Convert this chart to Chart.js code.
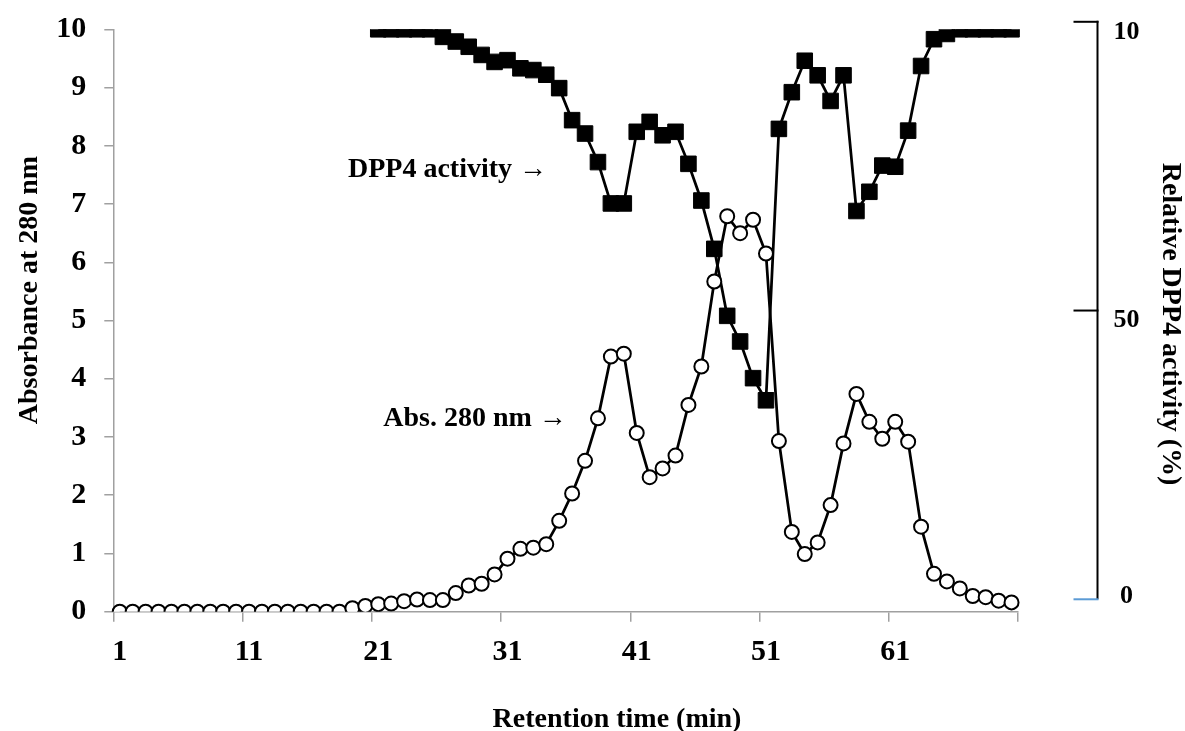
<!DOCTYPE html>
<html>
<head>
<meta charset="utf-8">
<script src="https://cdn.jsdelivr.net/npm/chart.js@4.4.1/dist/chart.umd.min.js"></script>
<style>
  body { margin: 0; background: #fff; }
  canvas { display: block; }
</style>
</head>
<body>
<canvas id="chart" width="1185" height="731"></canvas>
<script>
// retention time (min), one fraction per minute
const minutes = [1, 2, 3, 4, 5, 6, 7, 8, 9, 10, 11, 12, 13, 14, 15, 16, 17, 18, 19, 20,
    21, 22, 23, 24, 25, 26, 27, 28, 29, 30, 31, 32, 33, 34, 35, 36, 37, 38, 39, 40,
    41, 42, 43, 44, 45, 46, 47, 48, 49, 50, 51, 52, 53, 54, 55, 56, 57, 58, 59, 60,
    61, 62, 63, 64, 65, 66, 67, 68, 69, 70];

const absorbance = [0, 0, 0, 0, 0, 0, 0, 0, 0, 0, 0, 0, 0, 0, 0, 0, 0, 0, 0.06, 0.10,
    0.13, 0.14, 0.18, 0.21, 0.20, 0.20, 0.32, 0.45, 0.48, 0.64, 0.91, 1.08, 1.10, 1.16, 1.56, 2.03, 2.59, 3.32, 4.38, 4.43,
    3.07, 2.31, 2.46, 2.68, 3.55, 4.21, 5.67, 6.79, 6.50, 6.73, 6.15, 2.93, 1.37, 0.99, 1.19, 1.83, 2.89, 3.74, 3.26, 2.97,
    3.26, 2.92, 1.46, 0.65, 0.52, 0.40, 0.27, 0.25, 0.19, 0.16];

// DPP4 activity as plotted against the left axis
const dpp4 = [null, null, null, null, null, null, null, null, null, null, null, null, null, null, null, null, null, null, null, null,
    10, 10, 10, 10, 10, 9.87, 9.79, 9.70, 9.56, 9.44, 9.47, 9.33, 9.30, 9.22, 8.99, 8.44, 8.21, 7.72, 7.01, 7.01,
    8.24, 8.41, 8.18, 8.24, 7.69, 7.06, 6.23, 5.08, 4.64, 4.01, 3.63, 8.29, 8.92, 9.46, 9.21, 8.77, 9.21, 6.88, 7.21, 7.66,
    7.64, 8.26, 9.37, 9.83, 9.92, 10, 10, 10, 10, 10];

const rightTicks = [0, 50, 100];
const rightTickLabels = ['0', '50', '10'];

const GRAY = '#A0A0A0';
const SERIF = '"Liberation Serif", "Times New Roman", serif';

// right axis, titles and arrows drawn over the chart
const overlay = {
    id: 'overlay',
    afterDraw(chart) {
        const { ctx, chartArea } = chart;
        const { x, y, y2 } = chart.scales;
        ctx.save();
        ctx.fillStyle = '#000';

        // right axis
        const axisX = chartArea.right + 79.5;
        const top = y2.getPixelForValue(100);
        const bottom = y2.getPixelForValue(0);
        ctx.lineWidth = 2;
        ctx.strokeStyle = '#000';
        ctx.beginPath();
        ctx.moveTo(axisX, top - 1);
        ctx.lineTo(axisX, bottom);
        ctx.stroke();
        ctx.font = 'bold 26px ' + SERIF;
        ctx.textAlign = 'center';
        ctx.textBaseline = 'middle';
        rightTicks.forEach((v, i) => {
            const py = y2.getPixelForValue(v);
            ctx.strokeStyle = v === 0 ? '#5B9BD5' : '#000';
            ctx.beginPath();
            ctx.moveTo(axisX - 24, py);
            ctx.lineTo(axisX + 1, py);
            ctx.stroke();
            ctx.fillText(rightTickLabels[i], axisX + 29, py + (v === 0 ? -3 : 10));
        });

        // axis titles
        ctx.font = 'bold 28px ' + SERIF;
        ctx.textBaseline = 'alphabetic';
        ctx.textAlign = 'center';
        ctx.fillText('Retention time (min)', 617, 727);

        ctx.save();
        ctx.translate(37, 290);
        ctx.rotate(-Math.PI / 2);
        ctx.fillText('Absorbance at 280 nm', 0, 0);
        ctx.restore();

        ctx.save();
        ctx.translate(1163, 324);
        ctx.rotate(Math.PI / 2);
        ctx.fillText('Relative DPP4 activity (%)', 0, 0);
        ctx.restore();

        // series labels
        ctx.textAlign = 'right';
        ctx.fillText('DPP4 activity \u2192', x.getPixelForValue(33.06), y.getPixelForValue(7.46));
        ctx.fillText('Abs. 280 nm \u2192', x.getPixelForValue(34.59), y.getPixelForValue(3.18));

        ctx.restore();
    }
};

new Chart(document.getElementById('chart'), {
    type: 'line',
    data: {
        labels: minutes,
        datasets: [
            {
                label: 'Abs. 280 nm',
                data: absorbance,
                borderColor: '#000',
                borderWidth: 2.75,
                pointStyle: 'circle',
                pointRadius: 7,
                pointBorderWidth: 2,
                pointBorderColor: '#000',
                pointBackgroundColor: '#fff',
                tension: 0,
                yAxisID: 'y'
            },
            {
                label: 'DPP4 activity',
                data: dpp4,
                borderColor: '#000',
                borderWidth: 2.75,
                pointStyle: 'rect',
                pointRadius: 11,
                pointBorderWidth: 1,
                pointBorderColor: '#000',
                pointBackgroundColor: '#000',
                tension: 0,
                yAxisID: 'y'
            }
        ]
    },
    options: {
        responsive: false,
        animation: false,
        events: [],
        layout: { autoPadding: false, padding: { top: 29.3, right: 167, left: 0, bottom: 0 } },
        plugins: {
            legend: { display: false },
            tooltip: { enabled: false }
        },
        scales: {
            x: {
                type: 'category',
                offset: true,
                grid: {
                    offset: true,
                    drawOnChartArea: false,
                    tickLength: 10,
                    lineWidth: 1.5,
                    color: c => (c.index === undefined || c.index % 10 === 0) ? GRAY : 'rgba(0,0,0,0)'
                },
                border: { color: GRAY, width: 1.5 },
                ticks: {
                    autoSkip: false,
                    maxRotation: 0,
                    padding: 13,
                    color: '#000',
                    font: { family: SERIF, size: 30, weight: 'bold' },
                    callback: (v, i) => i % 10 === 0 ? String(minutes[i]) : ''
                },
                afterFit: s => {
                    s.height = 119.3;
                    s.paddingLeft = 0;
                    s.paddingRight = 0;
                }
            },
            y: {
                min: 0,
                max: 10,
                grid: { drawOnChartArea: false, tickLength: 9, lineWidth: 1.5, color: GRAY },
                border: { color: GRAY, width: 1.5 },
                ticks: {
                    stepSize: 1,
                    padding: 18,
                    color: '#000',
                    font: { family: SERIF, size: 30, weight: 'bold' }
                },
                afterFit: s => {
                    s.width = 113.3;
                    s.paddingTop = 0;
                    s.paddingBottom = 0;
                }
            },
            y2: {
                position: 'right',
                display: false,
                min: -2.15,
                max: 98.7
            }
        }
    },
    plugins: [overlay]
});
</script>
</body>
</html>
